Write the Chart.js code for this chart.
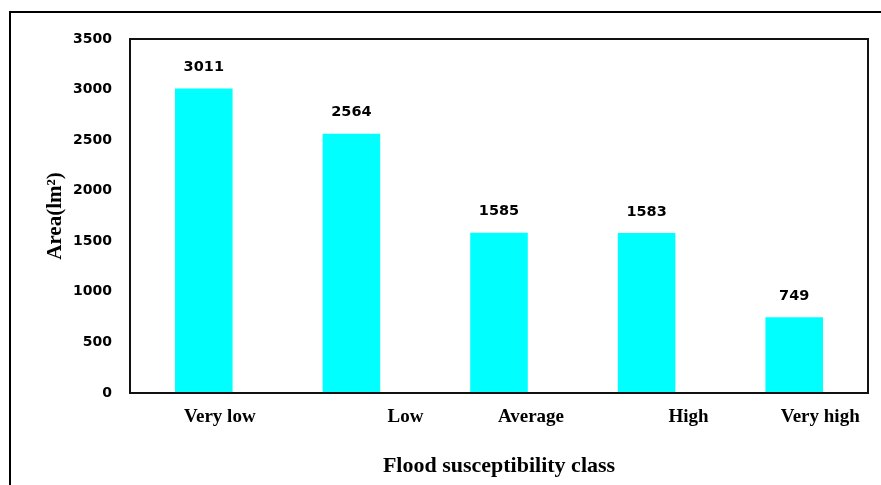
<!DOCTYPE html>
<html>
<head>
<meta charset="utf-8">
<script src="https://cdn.jsdelivr.net/npm/chart.js@4.4.1/dist/chart.umd.min.js"></script>
<style>
  html, body { margin: 0; padding: 0; background: #fff; }
  #wrap { position: relative; width: 881px; height: 485px; overflow: hidden; }
  #frame { position: absolute; left: 9px; top: 11px; width: 900px; height: 500px;
           border: 2px solid #000; box-sizing: border-box; }
  canvas { position: absolute; left: 0; top: 0; }
</style>
</head>
<body>
<div id="wrap">
  <div id="frame"></div>
  <canvas id="chart" width="881" height="485"></canvas>
</div>
<script>
// Flood susceptibility classes and their area
const categories = ['Very low', 'Low', 'Average', 'High', 'Very high'];
const areaValues = [3011, 2564, 1585, 1583, 749];
const yTicks = [0, 500, 1000, 1500, 2000, 2500, 3000, 3500];

// Horizontal nudge of each class label relative to its bar (px)
const labelShift = [16, 54, 32, 42, 26];

const serifBold = 'bold 19px "Liberation Serif", "Times New Roman", serif';
const sansBold = 'bold 14.5px "DejaVu Sans", Tahoma, sans-serif';

// Value labels above bars, class labels under the axis, and the plot box
const decorations = {
  id: 'decorations',
  afterDatasetsDraw(chart) {
    const ctx = chart.ctx;
    const meta = chart.getDatasetMeta(0);
    ctx.save();
    ctx.fillStyle = '#000';
    ctx.font = sansBold;
    ctx.textAlign = 'center';
    ctx.textBaseline = 'middle';
    meta.data.forEach((bar, i) => {
      ctx.fillText(String(areaValues[i]), bar.x, bar.y - 21);
    });

    const xs = chart.scales.x;
    ctx.font = serifBold;
    ctx.textBaseline = 'middle';
    categories.forEach((name, i) => {
      ctx.fillText(name, xs.getPixelForTick(i) + labelShift[i], chart.chartArea.bottom + 24);
    });

    const a = chart.chartArea;
    ctx.strokeStyle = '#111';
    ctx.lineWidth = 2;
    ctx.strokeRect(a.left, a.top, a.right - a.left, a.bottom - a.top);
    ctx.restore();
  }
};

new Chart(document.getElementById('chart'), {
  type: 'bar',
  data: {
    labels: categories,
    datasets: [{
      data: areaValues,
      backgroundColor: '#00FFFF',
      borderWidth: 0,
      categoryPercentage: 1.0,
      barPercentage: 0.39
    }]
  },
  options: {
    responsive: false,
    animation: false,
    layout: { padding: { left: 0, right: 13, top: 39, bottom: 0 } },
    plugins: { legend: { display: false }, tooltip: { enabled: false } },
    scales: {
      x: {
        grid: { display: false, drawTicks: false },
        border: { display: false },
        ticks: { display: false },
        title: {
          display: true,
          text: 'Flood susceptibility class',
          color: '#000',
          font: { family: '"Liberation Serif", "Times New Roman", serif', size: 22, weight: 'bold' },
          padding: { top: 0, bottom: 5 }
        },
        afterFit(scale) { scale.height = 92; }
      },
      y: {
        min: 0,
        max: 3500,
        grid: { display: false, drawTicks: false },
        border: { display: false },
        afterBuildTicks(scale) { scale.ticks = yTicks.map(v => ({ value: v })); },
        ticks: {
          color: '#000',
          padding: 18,
          callback: v => String(v),
          font: { family: '"DejaVu Sans", Tahoma, sans-serif', size: 14, weight: 'bold' }
        },
        title: {
          display: true,
          text: 'Area(lm²)',
          color: '#000',
          font: { family: '"Liberation Serif", "Times New Roman", serif', size: 21, weight: 'bold' },
          padding: { top: 43, bottom: 0 }
        },
        afterFit(scale) { scale.width = 130; }
      }
    }
  },
  plugins: [decorations]
});
</script>
</body>
</html>
